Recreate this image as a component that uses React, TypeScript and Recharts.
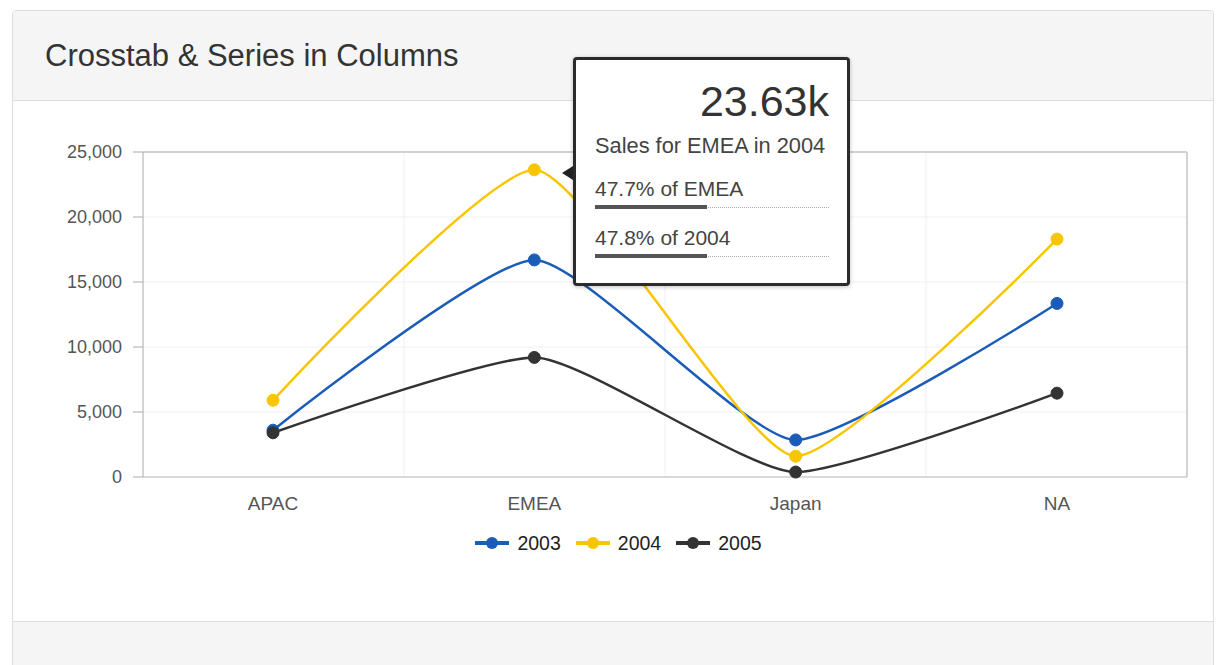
import React from "react";
import {
  LineChart,
  Line,
  XAxis,
  YAxis,
  CartesianGrid,
  Tooltip,
  Legend,
} from "recharts";

const regions = ["APAC", "EMEA", "Japan", "NA"];
const sales2003 = [3600, 16700, 2850, 13350];
const sales2004 = [5900, 23630, 1600, 18300];
const sales2005 = [3400, 9200, 380, 6450];
const yTicks = [0, 5000, 10000, 15000, 20000, 25000];

const series = [
  { key: "y2003", name: "2003", color: "#1a5cb8", values: sales2003 },
  { key: "y2004", name: "2004", color: "#f7c600", values: sales2004 },
  { key: "y2005", name: "2005", color: "#333333", values: sales2005 },
];

const data = regions.map((region, i) => ({
  region,
  y2003: sales2003[i],
  y2004: sales2004[i],
  y2005: sales2005[i],
}));

const focusKey = "y2004";
const FONT = "'Liberation Sans', Arial, Helvetica, sans-serif";

// gentle spline: short tangents, flat at local extremes, no overshoot
function splineCurve(context: any) {
  let xs: number[] = [];
  let ys: number[] = [];
  return {
    areaStart() {},
    areaEnd() {},
    lineStart() {
      xs = [];
      ys = [];
    },
    point(x: number, y: number) {
      xs.push(+x);
      ys.push(+y);
    },
    lineEnd() {
      const n = xs.length;
      if (!n) return;
      context.moveTo(xs[0], ys[0]);
      if (n === 1) return;
      const sm = 4.5;
      const den = sm + 1;
      const lc: number[][] = [];
      const rc: number[][] = [];
      for (let i = 0; i < n; i++) {
        if (i === 0 || i === n - 1) {
          lc[i] = [xs[i], ys[i]];
          rc[i] = [xs[i], ys[i]];
          continue;
        }
        const lx = (sm * xs[i] + xs[i - 1]) / den;
        let ly = (sm * ys[i] + ys[i - 1]) / den;
        const rx = (sm * xs[i] + xs[i + 1]) / den;
        let ry = (sm * ys[i] + ys[i + 1]) / den;
        if (rx !== lx) {
          const corr = ((ry - ly) * (rx - xs[i])) / (rx - lx) + ys[i] - ry;
          ly += corr;
          ry += corr;
        }
        const lMax = Math.max(ys[i - 1], ys[i]);
        const lMin = Math.min(ys[i - 1], ys[i]);
        if (ly > lMax) {
          ly = lMax;
          ry = 2 * ys[i] - ly;
        } else if (ly < lMin) {
          ly = lMin;
          ry = 2 * ys[i] - ly;
        }
        const rMax = Math.max(ys[i + 1], ys[i]);
        const rMin = Math.min(ys[i + 1], ys[i]);
        if (ry > rMax) {
          ry = rMax;
          ly = 2 * ys[i] - ry;
        } else if (ry < rMin) {
          ry = rMin;
          ly = 2 * ys[i] - ry;
        }
        lc[i] = [lx, ly];
        rc[i] = [rx, ry];
      }
      for (let i = 1; i < n; i++) {
        context.bezierCurveTo(rc[i - 1][0], rc[i - 1][1], lc[i][0], lc[i][1], xs[i], ys[i]);
      }
    },
  };
}

function ShareRow({ label, share }: { label: string; share: number }) {
  return (
    <div style={{ marginTop: 13 }}>
      <div style={{ fontSize: 21, lineHeight: "30px", color: "#444" }}>{label}</div>
      <div style={{ position: "relative", height: 5, marginTop: 1 }}>
        <div
          style={{
            position: "absolute",
            left: 0,
            right: 0,
            top: 2,
            borderTop: "1px dotted #aaa",
          }}
        />
        <div
          style={{
            position: "absolute",
            left: 0,
            top: 0,
            height: 4,
            width: `${share * 100}%`,
            background: "#555",
          }}
        />
      </div>
    </div>
  );
}

function SalesTooltip({ payload }: any) {
  if (!payload || !payload.length) return null;
  const row = payload[0].payload;
  const s = series.find((x) => x.key === focusKey)!;
  const value = row[focusKey];
  const regionTotal = series.reduce((acc, x) => acc + row[x.key], 0);
  const seriesTotal = s.values.reduce((a, b) => a + b, 0);
  const regionShare = value / regionTotal;
  const seriesShare = value / seriesTotal;
  return (
    <div
      style={{
        position: "relative",
        width: 234,
        background: "#fff",
        border: "3px solid #2b2b2b",
        borderRadius: 4,
        padding: "16px 18px 24px 19px",
        fontFamily: FONT,
        boxShadow: "0 1px 4px rgba(0,0,0,0.25)",
      }}
    >
      <div
        style={{
          position: "absolute",
          left: -14,
          top: 106,
          width: 0,
          height: 0,
          borderTop: "7px solid transparent",
          borderBottom: "7px solid transparent",
          borderRight: "11px solid #222",
        }}
      />
      <div style={{ textAlign: "right", fontSize: 43, lineHeight: "50px", color: "#333" }}>
        {(value / 1000).toFixed(2)}k
      </div>
      <div style={{ fontSize: 21.8, lineHeight: "30px", color: "#444", marginTop: 5 }}>
        Sales for {row.region} in {s.name}
      </div>
      <ShareRow label={`${(regionShare * 100).toFixed(1)}% of ${row.region}`} share={regionShare} />
      <ShareRow label={`${(seriesShare * 100).toFixed(1)}% of ${s.name}`} share={seriesShare} />
    </div>
  );
}

function LegendContent() {
  return (
    <div
      style={{
        display: "flex",
        justifyContent: "center",
        alignItems: "center",
        height: 30,
        fontFamily: FONT,
      }}
    >
      {series.map((s) => (
        <div key={s.key} style={{ display: "flex", alignItems: "center", marginRight: 15 }}>
          <svg width={34} height={14} style={{ marginRight: 8 }}>
            <line x1={0} y1={7} x2={34} y2={7} stroke={s.color} strokeWidth={4} />
            <circle cx={17} cy={7} r={6} fill={s.color} />
          </svg>
          <span style={{ fontSize: 19.5, color: "#222" }}>{s.name}</span>
        </div>
      ))}
    </div>
  );
}

export default function App() {
  return (
    <div style={{ position: "relative", width: 1221, height: 665, fontFamily: FONT, background: "#fff" }}>
      <style>{`body{margin:0;}`}</style>
      <div
        style={{
          position: "absolute",
          left: 12,
          top: 10,
          width: 1200,
          height: 660,
          border: "1px solid #dddddd",
          borderRadius: 4,
          overflow: "hidden",
          background: "#fff",
        }}
      >
        <div
          style={{
            height: 89,
            background: "#f5f5f5",
            borderBottom: "1px solid #dddddd",
            display: "flex",
            alignItems: "center",
            paddingLeft: 32,
            fontSize: 31,
            color: "#333",
          }}
        >
          Crosstab &amp; Series in Columns
        </div>
        <div
          style={{
            position: "absolute",
            left: 0,
            right: 0,
            top: 610,
            bottom: 0,
            background: "#f5f5f5",
            borderTop: "1px solid #dddddd",
          }}
        />
      </div>
      <div style={{ position: "absolute", left: 0, top: 100, zIndex: 2 }}>
        <LineChart
          width={1221}
          height={520}
          data={data}
          margin={{ top: 52, right: 34, left: 63, bottom: 83 }}
        >
          <CartesianGrid
            stroke="#f0f0f0"
            verticalCoordinatesGenerator={({ offset }: any) =>
              [1, 2, 3].map((i) => offset.left + (i * offset.width) / regions.length)
            }
          />
          {/* plot frame: top and right edges */}
          <CartesianGrid
            stroke="#c4c4c4"
            strokeWidth={1.5}
            horizontalCoordinatesGenerator={({ offset }: any) => [offset.top]}
            verticalCoordinatesGenerator={({ offset }: any) => [offset.left + offset.width]}
          />
          <XAxis
            dataKey="region"
            padding={{ left: 130, right: 130 }}
            tickLine={false}
            axisLine={{ stroke: "#bbbbbb" }}
            tickMargin={14}
            tick={{ fill: "#555", fontSize: 19, fontFamily: FONT }}
          />
          <YAxis
            width={80}
            domain={[0, 25000]}
            ticks={yTicks}
            tickFormatter={(v: number) => v.toLocaleString("en-US")}
            tickSize={10}
            tickMargin={11}
            tickLine={{ stroke: "#aaaaaa" }}
            axisLine={{ stroke: "#aaaaaa" }}
            tick={{ fill: "#555", fontSize: 18, fontFamily: FONT }}
          />
          {series.map((s) => (
            <Line
              key={s.key}
              type={splineCurve as any}
              dataKey={s.key}
              name={s.name}
              stroke={s.color}
              strokeWidth={2.5}
              dot={{ r: 6, fill: s.color, stroke: s.color, strokeWidth: 1 }}
              activeDot={false}
              isAnimationActive={false}
            />
          ))}
          <Legend
            content={<LegendContent />}
            height={30}
            wrapperStyle={{ top: 428, left: 8, width: 1236 }}
          />
          <Tooltip
            active
            defaultIndex={1}
            cursor={false}
            position={{ x: 573, y: -43 }}
            content={<SalesTooltip />}
            isAnimationActive={false}
            wrapperStyle={{ zIndex: 10 }}
          />
        </LineChart>
      </div>
    </div>
  );
}
